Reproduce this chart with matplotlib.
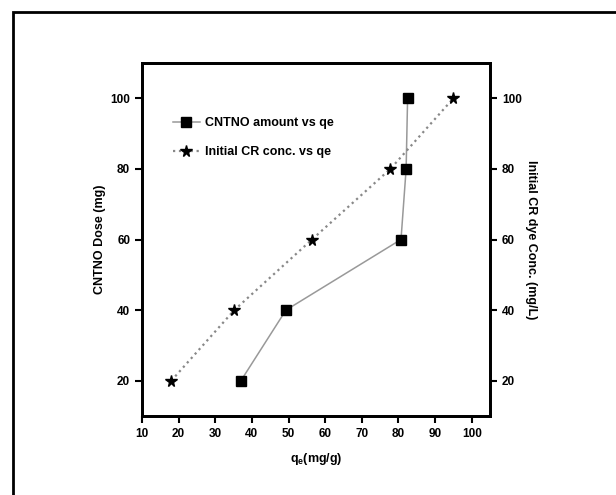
import matplotlib
matplotlib.use('Agg')
import matplotlib.pyplot as plt
from matplotlib.patches import Rectangle

# Data
qe_dose = [37, 49.3, 80.7, 82.1, 82.5]
dose_mg = [20, 40, 60, 80, 100]
qe_conc = [18, 35.2, 56.4, 77.8, 95]
conc_mgL = [20, 40, 60, 80, 100]

plt.rcParams['font.family'] = ['Liberation Sans', 'DejaVu Sans']
plt.rcParams['font.weight'] = 'bold'

fig = plt.figure(figsize=(6.16, 4.95), dpi=100)
ax = fig.add_axes([0.2305, 0.1596, 0.565, 0.7131])
ax2 = ax.twinx()

ax.plot(qe_dose, dose_mg, color='#999999', lw=1.1, marker='s', ms=6.5,
        mfc='black', mec='black', label='CNTNO amount vs qe')
ax2.plot(qe_conc, conc_mgL, color='#888888', lw=1.6, ls=':', marker='*', ms=8.5,
         mfc='black', mec='black', label='Initial CR conc. vs qe')

for a in (ax, ax2):
    a.set_ylim(10, 110)
    a.set_yticks([20, 40, 60, 80, 100])
    a.tick_params(direction='out', length=5, width=1.5, labelsize=8.5)
    for s in a.spines.values():
        s.set_linewidth(2)
ax.set_xlim(10, 105)
ax.set_xticks(range(10, 101, 10))

ax.set_xlabel('q$_\\mathregular{e}$(mg/g)', fontsize=9, fontweight='bold', labelpad=8)
ax.set_ylabel('CNTNO Dose (mg)', fontsize=9, fontweight='bold', labelpad=3)
ax2.set_ylabel('Initial CR dye Conc. (mg/L)', fontsize=9, fontweight='bold',
               rotation=270, labelpad=11)

h1, l1 = ax.get_legend_handles_labels()
h2, l2 = ax2.get_legend_handles_labels()
ax2.legend(h1 + h2, l1 + l2, loc='upper left', bbox_to_anchor=(0.056, 0.879),
           frameon=False, fontsize=9, labelspacing=1.4, handlelength=2.2,
           handletextpad=0.4)

# outer frame (only left and top visible in the reference)
fig.add_artist(Rectangle((13 / 616, -0.1), 1.2, (495 - 12) / 495 + 0.1,
                         transform=fig.transFigure, fill=False, lw=2, ec='black'))

fig.savefig('out.png', dpi=100)
